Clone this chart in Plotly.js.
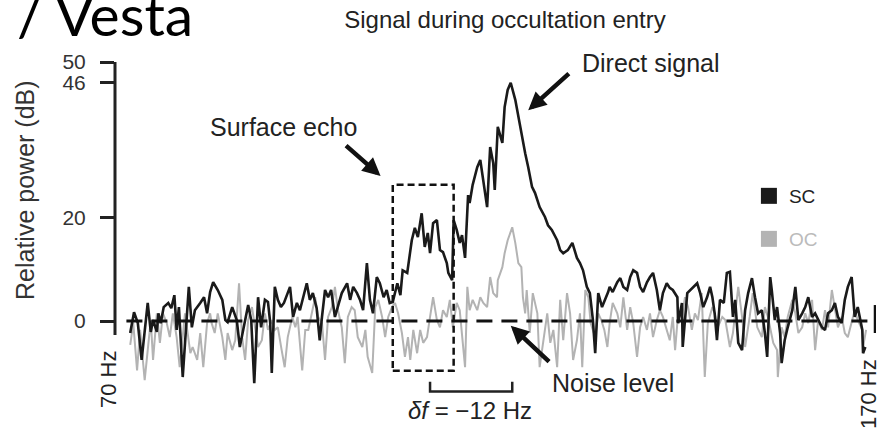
<!DOCTYPE html>
<html>
<head>
<meta charset="utf-8">
<script src="https://cdn.plot.ly/plotly-3.0.1.min.js"></script>
<style>html,body{margin:0;padding:0;background:#fff;}#chart{width:883px;height:434px;}</style>
</head>
<body>
<div id="chart"></div>
<script>
// Frequency (Hz) and relative power (dB)
const scFreq = [72.0,72.5,73.0,73.5,74.3,74.7,75.0,75.5,75.7,76.0,76.4,77.0,77.4,77.8,78.1,78.4,78.9,79.7,80.1,80.5,81.2,81.7,82.1,82.5,82.9,83.5,84.1,84.5,84.8,85.4,86.0,86.4,87.5,87.9,88.3,88.8,89.2,89.7,90.1,90.4,90.6,91.0,91.4,91.8,92.2,93.0,93.4,93.9,94.3,94.7,95.2,95.6,96.0,96.5,96.9,97.2,97.6,98.0,98.4,98.9,99.3,99.8,100.5,100.9,101.3,101.8,102.2,102.6,103.1,103.5,103.9,104.4,104.8,105.3,105.7,106.1,106.5,107.1,107.5,107.8,108.4,109.0,109.4,109.8,110.3,110.7,111.1,111.4,111.8,112.3,112.7,113.1,113.6,113.8,114.3,114.5,114.9,115.3,115.6,116.0,116.4,116.6,117.0,117.6,118.0,118.4,118.9,119.3,119.7,119.9,120.3,120.9,121.2,121.6,122.0,122.6,123.0,123.5,123.9,124.3,124.8,125.2,125.8,126.5,126.9,127.4,128.1,128.5,128.9,129.5,130.1,130.7,131.1,131.5,132.0,132.4,132.8,133.1,133.5,134.0,134.4,134.8,135.0,135.4,136.0,136.4,136.8,137.3,137.7,138.1,138.6,139.0,139.4,139.9,140.3,140.7,141.2,141.6,142.0,142.5,142.9,143.3,143.9,144.0,144.5,144.6,145.2,145.6,146.0,146.5,146.9,147.3,147.8,148.2,148.5,148.8,149.1,149.5,150.0,150.4,150.8,151.2,151.5,151.9,152.4,152.8,153.2,153.7,154.1,154.5,155.0,155.4,155.7,156.1,156.3,156.7,157.0,157.4,157.6,158.0,158.4,159.0,159.4,159.8,160.3,160.7,161.1,161.6,162.0,162.4,162.9,163.3,163.7,164.2,164.6,165.0,165.5,165.9,166.3,166.8,167.2,167.6,168.2,168.3,168.6];
const scPower = [-2.3,1.7,-0.4,-7.5,3.5,-2.1,0.2,-2.1,1.5,-0.4,2.7,3.5,2.5,5.0,-1.7,2.7,-10.8,6.6,-1.2,2.1,3.5,4.6,1.5,5.6,7.5,6.0,4.1,0.2,-0.2,2.7,0.2,-5.0,3.1,0.2,-12.0,4.6,-1.2,4.1,3.7,-0.4,-10.0,6.6,4.1,2.7,3.5,6.6,0.8,3.5,2.1,4.6,7.3,4.1,5.4,2.5,-3.7,0.8,6.0,4.6,6.0,0.8,2.7,5.4,7.3,4.1,6.6,5.4,4.1,2.1,11.2,4.1,1.5,8.5,7.3,4.6,6.0,3.5,3.7,7.3,5.0,9.8,9.3,15.6,18.0,16.2,20.8,14.3,17.0,13.1,18.9,19.5,13.7,13.3,11.2,9.3,7.9,19.5,17.6,15.1,16.6,12.2,24.3,22.8,26.3,29.7,31.1,27.2,22.0,33.6,30.5,25.3,37.5,34.4,41.3,44.6,46.0,42.7,39.4,35.5,32.4,29.7,25.9,24.7,22.0,20.1,18.5,17.6,15.6,13.7,13.1,13.7,15.1,12.2,11.2,9.8,6.6,5.4,0.2,-6.2,5.4,2.7,4.1,5.6,6.6,5.6,7.5,8.3,6.6,6.0,8.5,9.8,9.3,6.6,5.6,7.5,8.5,9.3,6.0,2.1,5.4,7.3,6.4,6.0,4.6,-0.4,3.5,-5.0,5.4,6.0,6.6,7.3,5.4,2.7,4.6,6.6,4.6,1.5,-3.7,4.1,3.5,9.3,9.5,0.8,4.1,-4.2,-5.6,2.1,5.4,8.3,4.6,1.5,2.1,-2.3,-6.9,8.5,6.0,0.2,2.7,-2.3,-8.1,-3.7,-1.2,2.1,6.6,0.2,1.5,2.7,4.6,0.8,1.5,0.2,-1.2,-1.7,1.5,2.1,3.5,0.8,-0.4,4.1,6.6,8.5,0.8,2.7,-1.7,-6.2,-5.0];
const ocFreq = [72.0,72.4,72.9,73.3,73.9,74.3,74.7,75.0,75.5,75.9,76.3,76.8,77.2,77.6,78.1,78.5,79.2,79.9,80.2,80.8,81.2,81.6,82.1,82.5,82.7,83.1,83.5,84.1,84.5,84.8,85.4,85.8,86.3,86.7,87.1,87.5,88.0,88.4,88.8,89.3,89.7,90.1,90.6,91.0,91.4,91.9,92.3,92.7,93.3,93.7,94.0,94.6,95.0,95.4,95.9,96.3,96.7,97.2,97.6,98.0,98.5,98.9,99.3,99.8,100.2,100.6,101.1,101.5,101.9,102.5,102.9,103.2,103.8,104.2,104.6,105.1,105.5,105.9,106.4,106.8,107.2,107.7,108.1,108.5,108.8,109.2,109.7,110.1,110.5,111.0,111.4,111.8,112.3,112.7,113.1,113.6,114.0,114.4,114.9,115.3,115.7,116.0,116.3,116.6,117.0,117.6,118.0,118.4,118.9,119.3,119.7,120.2,120.3,120.9,121.2,121.6,122.2,122.6,123.0,123.4,123.6,123.9,124.1,124.5,124.9,125.5,125.8,126.2,126.8,127.2,127.6,128.1,128.5,128.9,129.4,129.8,130.2,130.7,131.1,131.4,131.8,132.2,132.5,133.1,133.5,133.9,134.3,134.7,135.0,135.4,136.0,136.4,136.8,137.3,137.7,138.1,138.6,139.0,139.4,139.9,140.3,140.7,141.2,141.6,142.0,142.5,142.9,143.3,143.6,144.0,144.5,144.9,145.3,145.8,146.2,146.6,147.1,147.5,147.9,148.5,148.8,149.2,149.8,150.2,150.8,151.2,151.9,152.4,152.8,153.4,153.8,154.4,155.0,155.4,155.8,156.5,157.0,157.1,157.6,158.0,158.4,159.0,159.4,159.8,160.3,160.7,161.1,161.6,162.0,162.4,162.9,163.3,163.7,164.2,164.6,165.0,165.5,165.9,166.3,166.8,167.2,167.6,168.2,168.3,168.7];
const ocPower = [-4.6,-0.4,-9.5,-1.7,-11.4,-5.0,0.2,-7.5,1.5,-4.2,1.5,-0.4,-3.1,1.5,-3.1,-8.9,1.5,-6.2,-5.0,-7.5,-2.3,-8.9,-0.4,1.5,-0.4,-2.3,1.5,-3.1,-7.5,-2.3,-5.6,-3.7,7.3,-3.1,-7.5,0.2,2.7,-1.2,-5.0,-3.7,1.5,-1.7,0.2,-1.7,-1.2,-5.6,-8.9,-3.1,0.8,-1.2,0.8,-9.5,-1.7,-1.7,1.5,4.6,0.8,-0.4,-7.5,0.8,2.7,6.6,2.1,-1.2,-8.1,0.8,2.7,2.1,-3.1,-5.0,-1.7,-6.9,-10.0,2.7,4.1,0.8,-3.1,0.8,2.7,3.5,1.5,-2.3,-6.9,-3.1,-7.5,-1.7,-6.2,-1.7,-4.2,-3.1,0.8,4.6,0.2,-1.2,2.1,0.8,4.1,-1.2,3.5,2.1,-4.2,-8.9,6.6,2.1,4.1,2.1,4.6,3.5,2.7,8.5,5.4,4.6,7.9,10.4,13.1,15.6,18.1,15.1,11.2,10.4,4.6,1.5,6.0,-2.3,5.4,1.5,-8.9,-4.6,1.5,-4.2,-1.7,-8.9,4.1,-3.7,5.4,1.5,-7.5,-3.7,1.5,-8.9,6.0,4.6,-0.4,-3.1,1.5,0.2,-1.7,-5.0,-0.4,3.5,1.5,-1.2,4.6,-1.7,2.7,-0.4,-6.9,-1.2,0.8,-1.7,1.5,-3.1,0.2,2.1,0.8,-1.7,-3.7,0.8,-5.6,1.5,0.8,4.6,2.7,-1.7,1.5,0.2,5.4,-10.8,-0.4,2.7,1.5,-1.2,0.8,0.2,-5.0,-2.3,6.6,0.8,-5.0,0.8,5.4,-1.2,-3.1,2.7,0.8,-4.2,-5.6,-10.8,-1.2,-3.1,0.8,4.1,1.5,-2.3,-1.2,1.5,-0.4,4.1,-5.6,0.2,-1.7,2.1,-1.2,6.0,2.7,-1.2,0.8,-2.3,-3.1,-0.4,2.1,0.2,-1.7,-5.0,-1.7];
const yTickVals = [0, 20, 46, 50];
const seriesNames = ['SC', 'OC'];
const seriesColors = ['#1a1a1a', '#b3b3b3'];

const FONT = 'Liberation Sans, Arial, sans-serif';

const traces = [
  {x: ocFreq, y: ocPower, type: 'scatter', mode: 'lines', line: {color: seriesColors[1], width: 2}, showlegend: false, hoverinfo: 'skip'},
  {x: scFreq, y: scPower, type: 'scatter', mode: 'lines', line: {color: seriesColors[0], width: 2.6}, showlegend: false, hoverinfo: 'skip'},
  {x: [null], y: [null], type: 'scatter', mode: 'markers', name: seriesNames[0], legend: 'legend',
   marker: {symbol: 'square', size: 18, color: seriesColors[0]}},
  {x: [null], y: [null], type: 'scatter', mode: 'markers', name: seriesNames[1], legend: 'legend2',
   marker: {symbol: 'square', size: 18, color: seriesColors[1]}}
];

const arrowStyle = {showarrow: true, arrowhead: 2, arrowsize: 0.8, arrowwidth: 4.5, arrowcolor: '#111',
  axref: 'x', ayref: 'y', text: ' ', font: {size: 2}};

const txt = (size, color) => ({family: FONT, size: size, color: color || '#222'});

// plot area: left 115, width 761, top 62, height 342
const layout = {
  width: 883, height: 434,
  margin: {l: 115, r: 7, t: 62, b: 30},
  paper_bgcolor: '#fff', plot_bgcolor: '#fff',
  font: {family: FONT, color: '#222'},
  title: {text: 'Signal during occultation entry', font: txt(24),
    x: 505/883, xref: 'container', xanchor: 'center', y: 1 - 20/434, yref: 'container', yanchor: 'middle'},
  xaxis: {range: [70, 170], showline: false, showticklabels: false, ticks: '', showgrid: false, zeroline: false, fixedrange: true},
  yaxis: {range: [-16, 50], tickvals: yTickVals, ticks: 'outside', ticklen: 14, tickwidth: 3, tickcolor: '#222',
    ticklabelstandoff: 10,
    showline: false, showgrid: false, zeroline: false, tickfont: txt(21, '#333'), fixedrange: true},
  legend: {x: 0.833, xanchor: 'left', y: (404-196)/342, yanchor: 'middle', bgcolor: 'rgba(0,0,0,0)',
    font: txt(19), itemwidth: 30},
  legend2: {x: 0.833, xanchor: 'left', y: (404-239)/342, yanchor: 'middle', bgcolor: 'rgba(0,0,0,0)',
    font: txt(19, '#bbbbbb'), itemwidth: 30},
  shapes: [
    {type: 'line', xref: 'paper', x0: 0, x1: 0, yref: 'y', y0: -2.7, y1: 50, line: {color: '#222', width: 3}},
    {type: 'line', xref: 'x', x0: 71.5, x1: 170, yref: 'y', y0: 0, y1: 0, line: {color: '#111', width: 3, dash: '16px,9px'}},
    {type: 'line', xref: 'x', x0: 169.9, x1: 169.9, yref: 'y', y0: 3.1, y1: -2.3, line: {color: '#111', width: 3}},
    {type: 'rect', xref: 'x', x0: 106.5, x1: 114.5, yref: 'y', y0: -9.6, y1: 26.3, line: {color: '#111', width: 2.5, dash: '7px,4px'}},
    {type: 'path', xref: 'x', yref: 'y', path: 'M 111.4 -11.7 L 111.4 -13.6 L 122.2 -13.6 L 122.2 -11.7', line: {color: '#222', width: 2.5}}
  ],
  annotations: [
    {xref: 'paper', yref: 'paper', x: -0.131, y: (404-14)/342, xanchor: 'left', yanchor: 'middle', showarrow: false,
     text: '/ Vesta', font: {family: 'Lato, sans-serif', size: 57, color: '#000'}},
    {xref: 'paper', yref: 'paper', x: (25-115)/761, y: (404-190)/342, xanchor: 'center', yanchor: 'middle', textangle: -90, showarrow: false,
     text: 'Relative power (dB)', font: txt(25, '#333')},
    {xref: 'paper', yref: 'paper', x: (108-115)/761, y: (404-380)/342, xanchor: 'center', yanchor: 'middle', textangle: -90, showarrow: false,
     text: '70 Hz', font: txt(22)},
    {xref: 'paper', yref: 'paper', x: (868-115)/761, y: (404-394)/342, xanchor: 'center', yanchor: 'middle', textangle: -90, showarrow: false,
     text: '170 Hz', font: txt(22)},
    {xref: 'paper', yref: 'paper', x: (470-115)/761, y: (404-410)/342, xanchor: 'center', yanchor: 'middle', showarrow: false,
     text: '<i>δf</i> = −12 Hz', font: txt(24)},
    {xref: 'x', yref: 'y', x: 92.2, y: 37.5, xanchor: 'center', yanchor: 'middle', showarrow: false, text: 'Surface echo', font: txt(25)},
    {xref: 'x', yref: 'y', x: 140.4, y: 49.8, xanchor: 'center', yanchor: 'middle', showarrow: false, text: 'Direct signal', font: txt(25)},
    {xref: 'x', yref: 'y', x: 135.4, y: -12.0, xanchor: 'center', yanchor: 'middle', showarrow: false, text: 'Noise level', font: txt(25)},
    Object.assign({xref: 'x', yref: 'y', x: 104.9, y: 28.0, ax: 100.1, ay: 34.2}, arrowStyle),
    Object.assign({xref: 'x', yref: 'y', x: 124.3, y: 40.7, ax: 129.9, ay: 48.1}, arrowStyle),
    Object.assign({xref: 'x', yref: 'y', x: 122.0, y: -0.9, ax: 127.3, ay: -8.2}, arrowStyle)
  ]
};

Plotly.newPlot('chart', traces, layout, {staticPlot: true, displayModeBar: false});
</script>
</body>
</html>
